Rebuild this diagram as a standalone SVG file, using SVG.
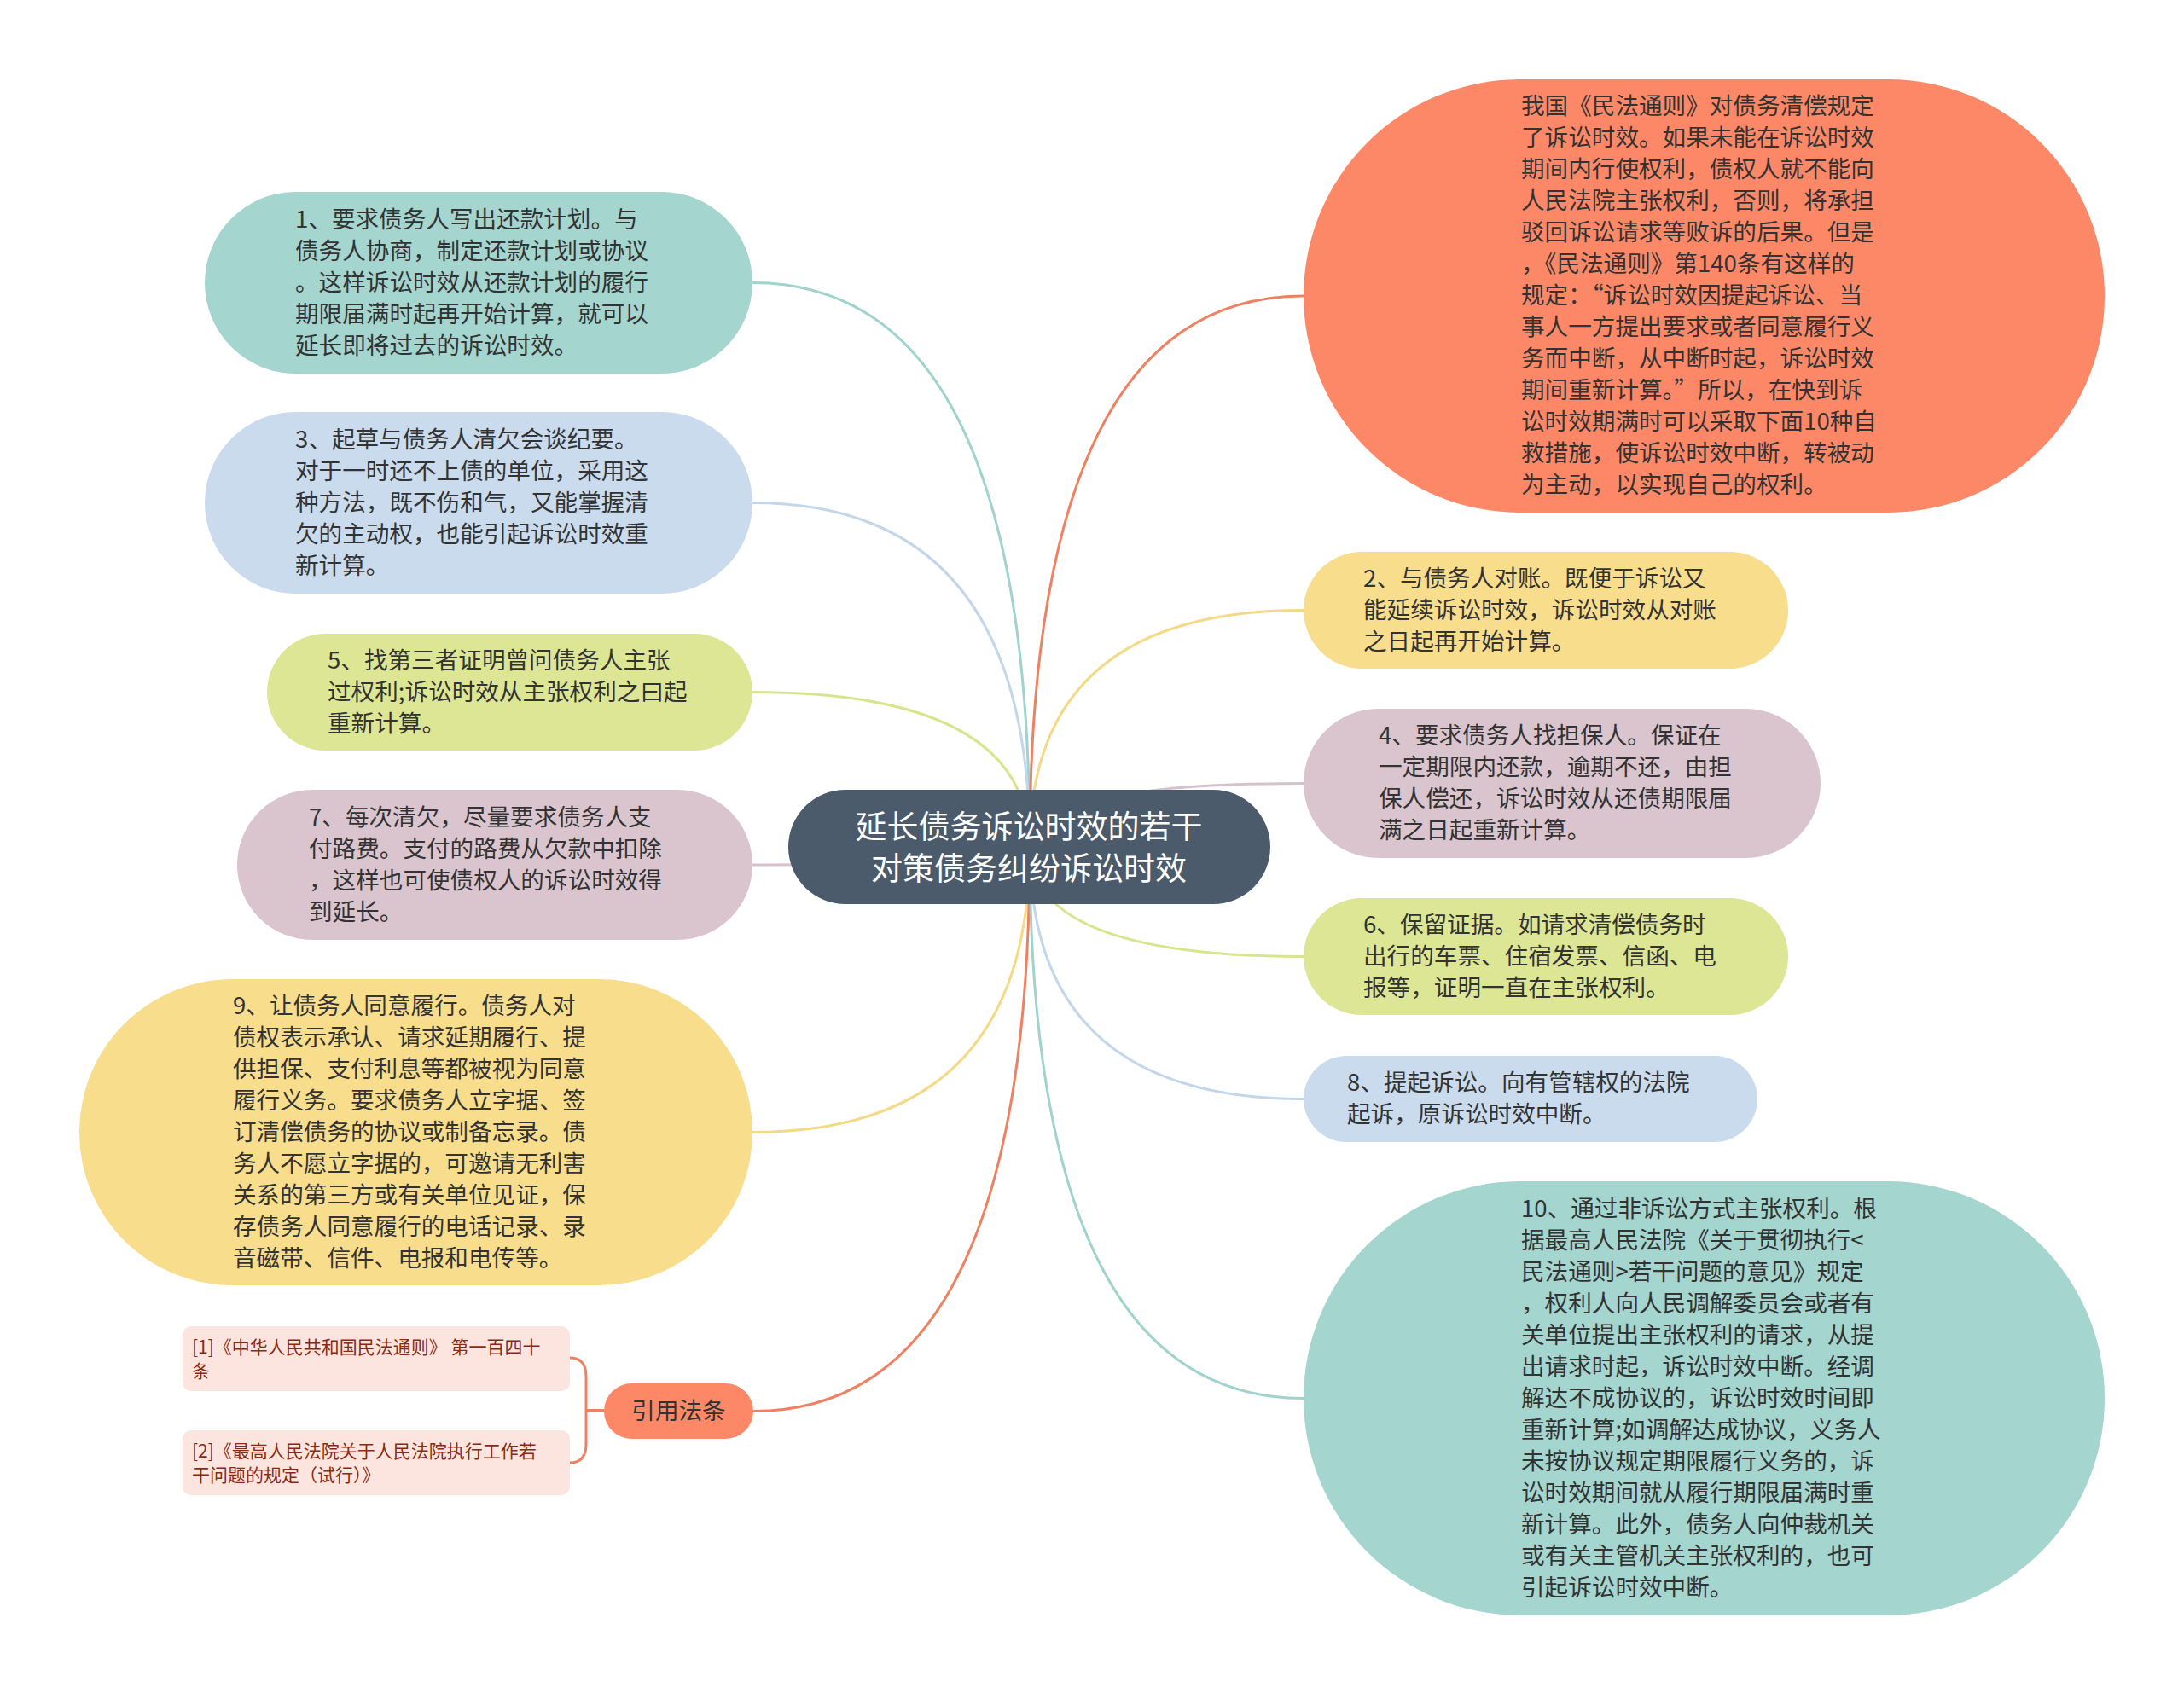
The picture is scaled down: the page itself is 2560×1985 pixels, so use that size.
<svg xmlns="http://www.w3.org/2000/svg" width="2560" height="1985" viewBox="0 0 2560 1985">
<style>
.t{font-family:"Noto Sans CJK SC","Liberation Sans",sans-serif;font-size:27.6px;fill:#333333;dominant-baseline:central;transform:translateY(-3px)}
.c{font-family:"Noto Sans CJK SC","Liberation Sans",sans-serif;font-size:37px;fill:#ffffff;dominant-baseline:central;text-anchor:middle}
.r{font-family:"Noto Sans CJK SC","Liberation Sans",sans-serif;font-size:21px;fill:#8a2a12;dominant-baseline:central}
.ln{fill:none;stroke-width:3;stroke-linecap:round}
</style>
<rect width="2560" height="1985" fill="#ffffff"/>
<g id="connectors">
<path class="ln" stroke="#9fd3cc" d="M1207,993 Q1207,331.5 882,331.5"/>
<path class="ln" stroke="#c4d7ea" d="M1207,993 Q1207,589.5 882,589.5"/>
<path class="ln" stroke="#d9e48f" d="M1207,993 Q1207,811.5 882,811.5"/>
<path class="ln" stroke="#d6c1cc" d="M1207,993 Q1207,1014 882,1014"/>
<path class="ln" stroke="#f4d986" d="M1207,993 Q1207,1327.5 882,1327.5"/>
<path class="ln" stroke="#ef8163" d="M1207,993 Q1207,1654.5 883,1654.5"/>
<path class="ln" stroke="#ef8163" d="M1207,993 Q1207,347 1528,347"/>
<path class="ln" stroke="#f4d986" d="M1207,993 Q1207,715.5 1528,715.5"/>
<path class="ln" stroke="#d6c1cc" d="M1207,993 Q1207,918.5 1528,918.5"/>
<path class="ln" stroke="#d9e48f" d="M1207,993 Q1207,1121.5 1528,1121.5"/>
<path class="ln" stroke="#c4d7ea" d="M1207,993 Q1207,1288.5 1528,1288.5"/>
<path class="ln" stroke="#9fd3cc" d="M1207,993 Q1207,1639.5 1528,1639.5"/>
<path class="ln" stroke="#ef8163" d="M668,1592 Q687,1592 687,1614 L687,1693 Q687,1715 668,1715 M687,1653.5 L708,1653.5"/>
</g>
<g id="center">
<rect x="924" y="926" width="565" height="134" rx="67" fill="#4b5b6b"/>
<text class="c" x="1206"><tspan x="1206" y="967">延长债务诉讼时效的若干</tspan><tspan x="1206" y="1016">对策债务纠纷诉讼时效</tspan></text>
</g>
<g id="n1">
<rect x="240" y="225" width="642" height="213" rx="106.5" fill="#a4d5cf"/>
<text class="t"><tspan x="346" y="257.5">1、要求债务人写出还款计划。与</tspan><tspan x="346" y="294.5">债务人协商，制定还款计划或协议</tspan><tspan x="346" y="331.5">。这样诉讼时效从还款计划的履行</tspan><tspan x="346" y="368.5">期限届满时起再开始计算，就可以</tspan><tspan x="346" y="405.5">延长即将过去的诉讼时效。</tspan></text>
</g>
<g id="n3">
<rect x="240" y="483" width="642" height="213" rx="106.5" fill="#c9dbed"/>
<text class="t"><tspan x="346" y="515.5">3、起草与债务人清欠会谈纪要。</tspan><tspan x="346" y="552.5">对于一时还不上债的单位，采用这</tspan><tspan x="346" y="589.5">种方法，既不伤和气，又能掌握清</tspan><tspan x="346" y="626.5">欠的主动权，也能引起诉讼时效重</tspan><tspan x="346" y="663.5">新计算。</tspan></text>
</g>
<g id="n5">
<rect x="313" y="743" width="569" height="137" rx="68.5" fill="#dce694"/>
<text class="t"><tspan x="384" y="774.5">5、找第三者证明曾问债务人主张</tspan><tspan x="384" y="811.5">过权利;诉讼时效从主张权利之曰起</tspan><tspan x="384" y="848.5">重新计算。</tspan></text>
</g>
<g id="n7">
<rect x="278" y="926" width="604" height="176" rx="88" fill="#dac5cf"/>
<text class="t"><tspan x="362" y="958.5">7、每次清欠，尽量要求债务人支</tspan><tspan x="362" y="995.5">付路费。支付的路费从欠款中扣除</tspan><tspan x="362" y="1032.5">，这样也可使债权人的诉讼时效得</tspan><tspan x="362" y="1069.5">到延长。</tspan></text>
</g>
<g id="n9">
<rect x="93" y="1148" width="789" height="359" rx="179.5" fill="#f7dd8c"/>
<text class="t"><tspan x="273" y="1179.5">9、让债务人同意履行。债务人对</tspan><tspan x="273" y="1216.5">债权表示承认、请求延期履行、提</tspan><tspan x="273" y="1253.5">供担保、支付利息等都被视为同意</tspan><tspan x="273" y="1290.5">履行义务。要求债务人立字据、签</tspan><tspan x="273" y="1327.5">订清偿债务的协议或制备忘录。债</tspan><tspan x="273" y="1364.5">务人不愿立字据的，可邀请无利害</tspan><tspan x="273" y="1401.5">关系的第三方或有关单位见证，保</tspan><tspan x="273" y="1438.5">存债务人同意履行的电话记录、录</tspan><tspan x="273" y="1475.5">音磁带、信件、电报和电传等。</tspan></text>
</g>
<g id="ref">
<rect x="708" y="1622" width="175" height="65" rx="32.5" fill="#fc8868"/>
<text class="t" x="795.5" y="1654.5" text-anchor="middle">引用法条</text>
</g>
<g id="ref1">
<rect x="214" y="1555" width="454" height="76" rx="10" fill="#fde5df"/>
<text class="r"><tspan x="225" y="1578">[1]《中华人民共和国民法通则》 第一百四十</tspan><tspan x="225" y="1606">条</tspan></text>
</g>
<g id="ref2">
<rect x="214" y="1677" width="454" height="76" rx="10" fill="#fde5df"/>
<text class="r"><tspan x="225" y="1700">[2]《最高人民法院关于人民法院执行工作若</tspan><tspan x="225" y="1728">干问题的规定（试行）》</tspan></text>
</g>
<g id="intro">
<rect x="1528" y="93" width="939" height="508" rx="254" fill="#fc8868"/>
<text class="t"><tspan x="1783" y="125">我国《民法通则》对债务清偿规定</tspan><tspan x="1783" y="162">了诉讼时效。如果未能在诉讼时效</tspan><tspan x="1783" y="199">期间内行使权利，债权人就不能向</tspan><tspan x="1783" y="236">人民法院主张权利，否则，将承担</tspan><tspan x="1783" y="273">驳回诉讼请求等败诉的后果。但是</tspan><tspan x="1783" y="310">，《民法通则》第140条有这样的</tspan><tspan x="1783" y="347">规定：“诉讼时效因提起诉讼、当</tspan><tspan x="1783" y="384">事人一方提出要求或者同意履行义</tspan><tspan x="1783" y="421">务而中断，从中断时起，诉讼时效</tspan><tspan x="1783" y="458">期间重新计算。”所以，在快到诉</tspan><tspan x="1783" y="495">讼时效期满时可以采取下面10种自</tspan><tspan x="1783" y="532">救措施，使诉讼时效中断，转被动</tspan><tspan x="1783" y="569">为主动，以实现自己的权利。</tspan></text>
</g>
<g id="n2">
<rect x="1528" y="647" width="568" height="137" rx="68.5" fill="#f7dd8c"/>
<text class="t"><tspan x="1598" y="678.5">2、与债务人对账。既便于诉讼又</tspan><tspan x="1598" y="715.5">能延续诉讼时效，诉讼时效从对账</tspan><tspan x="1598" y="752.5">之日起再开始计算。</tspan></text>
</g>
<g id="n4">
<rect x="1528" y="831" width="606" height="175" rx="87.5" fill="#dac5cf"/>
<text class="t"><tspan x="1616" y="863">4、要求债务人找担保人。保证在</tspan><tspan x="1616" y="900">一定期限内还款，逾期不还，由担</tspan><tspan x="1616" y="937">保人偿还，诉讼时效从还债期限届</tspan><tspan x="1616" y="974">满之日起重新计算。</tspan></text>
</g>
<g id="n6">
<rect x="1528" y="1053" width="568" height="137" rx="68.5" fill="#dce694"/>
<text class="t"><tspan x="1598" y="1084.5">6、保留证据。如请求清偿债务时</tspan><tspan x="1598" y="1121.5">出行的车票、住宿发票、信函、电</tspan><tspan x="1598" y="1158.5">报等，证明一直在主张权利。</tspan></text>
</g>
<g id="n8">
<rect x="1528" y="1238" width="532" height="101" rx="50.5" fill="#c9dbed"/>
<text class="t"><tspan x="1579" y="1270">8、提起诉讼。向有管辖权的法院</tspan><tspan x="1579" y="1307">起诉，原诉讼时效中断。</tspan></text>
</g>
<g id="n10">
<rect x="1528" y="1385" width="939" height="509" rx="254.5" fill="#a4d5cf"/>
<text class="t"><tspan x="1783" y="1417.5">10、通过非诉讼方式主张权利。根</tspan><tspan x="1783" y="1454.5">据最高人民法院《关于贯彻执行&lt;</tspan><tspan x="1783" y="1491.5">民法通则&gt;若干问题的意见》规定</tspan><tspan x="1783" y="1528.5">，权利人向人民调解委员会或者有</tspan><tspan x="1783" y="1565.5">关单位提出主张权利的请求，从提</tspan><tspan x="1783" y="1602.5">出请求时起，诉讼时效中断。经调</tspan><tspan x="1783" y="1639.5">解达不成协议的，诉讼时效时间即</tspan><tspan x="1783" y="1676.5">重新计算;如调解达成协议，义务人</tspan><tspan x="1783" y="1713.5">未按协议规定期限履行义务的，诉</tspan><tspan x="1783" y="1750.5">讼时效期间就从履行期限届满时重</tspan><tspan x="1783" y="1787.5">新计算。此外，债务人向仲裁机关</tspan><tspan x="1783" y="1824.5">或有关主管机关主张权利的，也可</tspan><tspan x="1783" y="1861.5">引起诉讼时效中断。</tspan></text>
</g>
</svg>
